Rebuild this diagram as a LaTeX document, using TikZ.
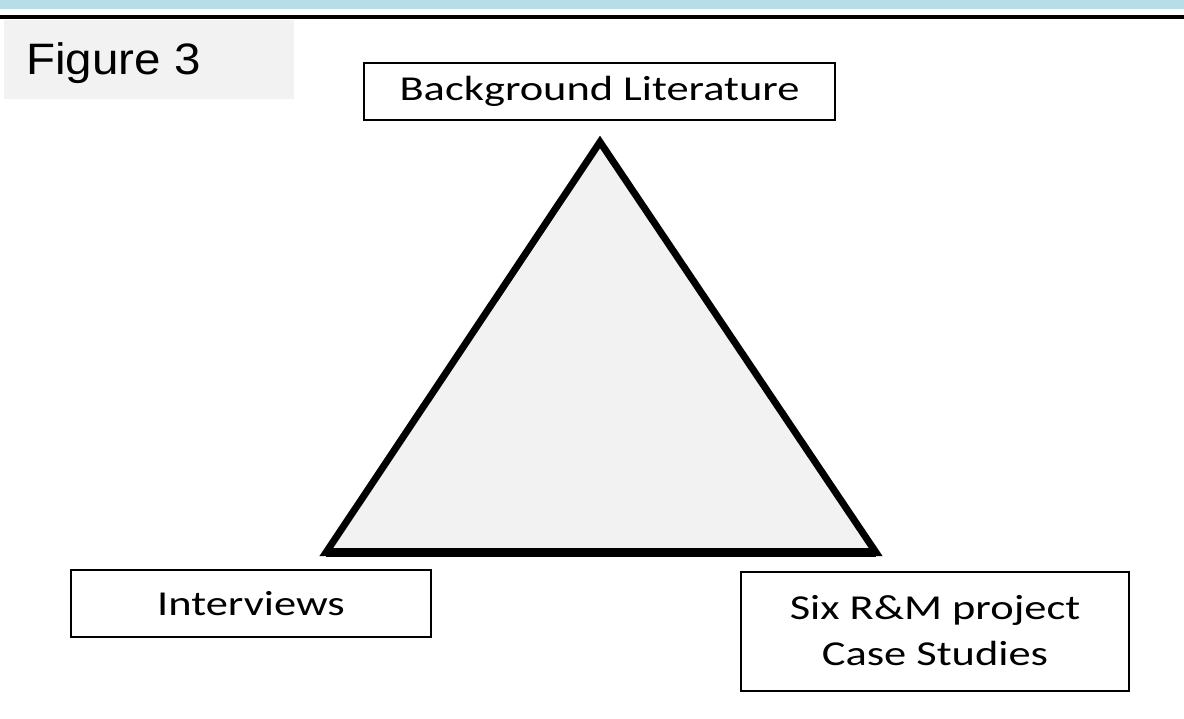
\documentclass[tikz,border=0pt]{standalone}
\usepackage{fontspec}
\setmainfont{Liberation Sans}
\newfontfamily\figfont[FakeStretch=1.08]{Liberation Sans}
\newfontfamily\boxfont[FakeStretch=1.27]{Carlito}
\usepackage{xcolor}
\definecolor{barblue}{HTML}{B7DEE8}
\definecolor{panelgray}{HTML}{F2F2F2}

\begin{document}
\begin{tikzpicture}[x=1pt, y=-1pt,
  source/.style={draw, line width=2pt, inner sep=0pt, align=center,
    font=\boxfont\fontsize{35}{46}\selectfont},
  tri/.style={fill=panelgray, line width=7pt, line join=miter}]
\useasboundingbox (0,0) rectangle (1184,719);
% slide header
\fill[barblue] (0,0) rectangle (1184,9);
\draw[line width=4pt] (0,17) -- (1184,17);
\fill[panelgray] (4,20) rectangle (294,99);
\node[anchor=base west, inner sep=0pt, font=\figfont\fontsize{44}{52}\selectfont] (figlabel) at (26,75) {Figure 3};
% triangle
\coordinate (apex) at (600,142);
\coordinate (lowleft) at (326,552.5);
\coordinate (lowright) at (876,552.5);
\draw[tri] (apex) -- (lowleft) -- (lowright) -- cycle;
\draw[line width=9pt] (lowleft) -- (lowright);
% the three sources
\node[source, minimum width=471pt, minimum height=57pt] (lit) at (599.5,91.5) {Background Literature};
\node[source, minimum width=360pt, minimum height=67pt] (intv) at (251,603.5) {Interviews};
\node[source, minimum width=388pt, minimum height=119pt] (cases) at (935,631) {Six R\&M project\\Case Studies};
\end{tikzpicture}
\end{document}
